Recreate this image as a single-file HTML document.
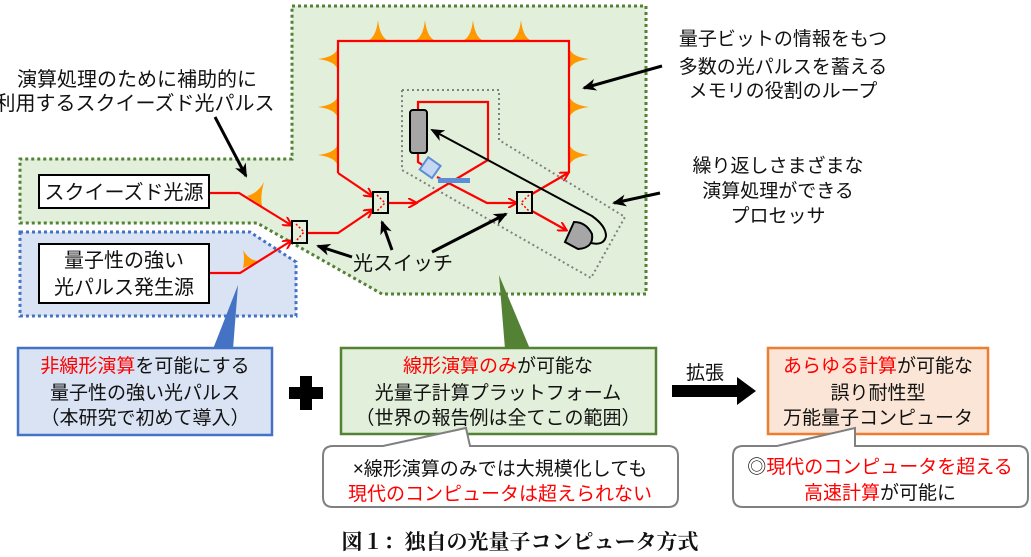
<!DOCTYPE html>
<html><head><meta charset="utf-8"><style>
html,body{margin:0;padding:0;background:#fff;}
svg{display:block;}
text{font-family:"Liberation Sans","Noto Sans CJK JP",sans-serif;fill:#111;}
.r{fill:#ff0000;}
</style></head><body>
<svg width="1031" height="557" viewBox="0 0 1031 557" xmlns="http://www.w3.org/2000/svg">
<defs>
<marker id="ar" markerWidth="10" markerHeight="10" refX="8" refY="5" orient="auto" markerUnits="userSpaceOnUse"><path d="M0,0 L9,5 L0,10" fill="none" stroke="#f00" stroke-width="2"/></marker>
<marker id="ab" markerWidth="14" markerHeight="12" refX="12" refY="6" orient="auto" markerUnits="userSpaceOnUse"><path d="M0,0 L14,6 L0,12 L4,6 Z" fill="#000"/></marker>
</defs>
<polygon points="292,6 646,6 646,294 382,294 257,223 20,223 20,159 292,159" fill="#e2efda" stroke="#548235" stroke-width="3" stroke-dasharray="3,3"/>
<polygon points="20,232 250,232 296,262 296,316 20,316" fill="#dae3f3" stroke="#4472c4" stroke-width="3" stroke-dasharray="3,3"/>
<polygon points="402,90 499,90 499,140 625,217 591,278 402,170" fill="none" stroke="#808080" stroke-width="2" stroke-dasharray="2,3"/>

<g fill="#ff9900">
<path d="M367,41 Q376,38 378,20 Q380,38 389,41Z"/>
<path d="M414,41 Q423,38 425,20 Q427,38 436,41Z"/>
<path d="M462,41 Q471,38 473,20 Q475,38 484,41Z"/>
<path d="M510,41 Q519,38 521,20 Q523,38 532,41Z"/>
<path d="M338,48 Q335,57 318,59 Q335,61 338,70Z"/>
<path d="M338,96 Q335,105 318,107 Q335,109 338,118Z"/>
<path d="M338,144 Q335,153 318,155 Q335,157 338,166Z"/>
<path d="M569,48 Q572,57 589,59 Q572,61 569,70Z"/>
<path d="M569,96 Q572,105 589,107 Q572,109 569,118Z"/>
<path d="M569,144 Q572,153 589,155 Q572,157 569,166Z"/>
<path d="M247,196 Q258,193 264,182 Q260,196 262,206Z"/>
<path d="M243,268 Q245,258 243,250 Q250,262 261,261Z"/>
</g>

<g fill="none" stroke="#ff0000" stroke-width="2.2">
<polyline points="208,193 239,193 291,225" marker-end="url(#ar)"/>
<polyline points="208,273 240,273 291,241" marker-end="url(#ar)"/>
<polyline points="307,233 338,233 372,210" marker-end="url(#ar)"/>
<polyline points="338,173 338,41 569,41 569,173"/>
<polyline points="338,173 372,196" marker-end="url(#ar)"/>
<polyline points="388,203 416,203" marker-end="url(#ar)"/>
<polyline points="416,203 488,160 488,102 418,102 418,110"/>
<polyline points="418,153 418,162 424,166"/>
<polyline points="437,177 487,203 516,203" marker-end="url(#ar)"/>
<polyline points="532,194 568,173" marker-end="url(#ar)"/>
<polyline points="532,211 566,230" marker-end="url(#ar)"/>
</g>

<g fill="none" stroke="#000" stroke-width="2">
<rect x="292" y="221" width="15" height="22"/>
<rect x="373" y="192" width="15" height="21"/>
<rect x="517" y="192" width="15" height="21"/>
</g>
<g fill="none" stroke="#ff0000" stroke-width="1.5" stroke-dasharray="2,2">
<polyline points="296,224 304,232 296,241"/>
<polyline points="377,195 385,203 377,211"/>
<polyline points="529,195 521,203 529,211"/>
</g>

<rect x="410" y="110" width="17" height="43" rx="3" fill="#a6a6a6" stroke="#000" stroke-width="2"/>
<rect x="423" y="160" width="15" height="15" fill="#c5d7f2" stroke="#5b8ed6" stroke-width="2" transform="rotate(35 430 167)"/>
<rect x="438" y="178" width="32" height="5" fill="#5b8ed6"/>
<path d="M574,222 L565,242 L578,249 Q594,248 592,234 Q586,222 574,222Z" fill="#a6a6a6" stroke="#000" stroke-width="2"/>
<path d="M591,243 Q604,246 606,236 Q606,226 592,216 L432,130" fill="none" stroke="#000" stroke-width="2" marker-end="url(#ab)"/>

<g stroke="#000" stroke-width="3" fill="none">
<line x1="215" y1="117" x2="246" y2="176" marker-end="url(#ab)"/>
<line x1="662" y1="66" x2="584" y2="88" marker-end="url(#ab)"/>
<line x1="660" y1="193" x2="614" y2="203" marker-end="url(#ab)"/>
<line x1="352" y1="257" x2="318" y2="246" marker-end="url(#ab)"/>
<line x1="392" y1="250" x2="382" y2="222" marker-end="url(#ab)"/>
<line x1="432" y1="252" x2="506" y2="214" marker-end="url(#ab)"/>
</g>

<rect x="39" y="175" width="170" height="33" fill="#fff" stroke="#000" stroke-width="2"/>
<text x="124" y="199" font-size="20" text-anchor="middle">スクイーズド光源</text>
<rect x="39" y="244" width="170" height="59" fill="#fff" stroke="#000" stroke-width="2"/>
<text x="124" y="267" font-size="20" text-anchor="middle">量子性の強い</text>
<text x="124" y="294" font-size="20" text-anchor="middle">光パルス発生源</text>

<text x="137" y="86" font-size="20" text-anchor="middle">演算処理のために補助的に</text>
<text x="135" y="110" font-size="20" text-anchor="middle">利用するスクイーズド光パルス</text>
<text x="783" y="45" font-size="19" text-anchor="middle">量子ビットの情報をもつ</text>
<text x="783" y="73" font-size="19" text-anchor="middle">多数の光パルスを蓄える</text>
<text x="783" y="97" font-size="19" text-anchor="middle">メモリの役割のループ</text>
<text x="778" y="172" font-size="19" text-anchor="middle">繰り返しさまざまな</text>
<text x="778" y="197" font-size="19" text-anchor="middle">演算処理ができる</text>
<text x="778" y="222" font-size="19" text-anchor="middle">プロセッサ</text>
<text x="403" y="270" font-size="20" text-anchor="middle">光スイッチ</text>

<polygon points="238,285 213,349 233,349" fill="#4472c4"/>
<polygon points="499,275 505,349 530,349" fill="#548235"/>

<rect x="18" y="348" width="254" height="87" fill="#dae3f3" stroke="#4472c4" stroke-width="2.5"/>
<text x="145" y="372" font-size="19" text-anchor="middle"><tspan class="r">非線形演算</tspan>を可能にする</text>
<text x="145" y="399" font-size="19" text-anchor="middle">量子性の強い光パルス</text>
<text x="145" y="424" font-size="19" text-anchor="middle">（本研究で初めて導入）</text>

<rect x="341" y="348" width="315" height="86" fill="#e2efda" stroke="#548235" stroke-width="2.5"/>
<text x="498" y="372" font-size="19" text-anchor="middle"><tspan class="r">線形演算のみ</tspan>が可能な</text>
<text x="498" y="399" font-size="19" text-anchor="middle">光量子計算プラットフォーム</text>
<text x="498" y="424" font-size="19" text-anchor="middle">（世界の報告例は全てこの範囲）</text>

<rect x="768" y="348" width="220" height="86" fill="#fbe5d6" stroke="#ed7d31" stroke-width="2.5"/>
<text x="878" y="372" font-size="19" text-anchor="middle"><tspan class="r">あらゆる計算</tspan>が可能な</text>
<text x="878" y="399" font-size="19" text-anchor="middle">誤り耐性型</text>
<text x="878" y="424" font-size="19" text-anchor="middle">万能量子コンピュータ</text>

<rect x="300" y="376" width="12" height="34" fill="#000"/>
<rect x="289" y="387" width="34" height="12" fill="#000"/>
<polygon points="672,385 737,385 737,377 756,391 737,405 737,397 672,397" fill="#000"/>
<text x="705" y="379" font-size="19" text-anchor="middle">拡張</text>

<path d="M333,446 L383,446 L466,428 L470,446 L668,446 Q678,446 678,456 L678,497 Q678,507 668,507 L333,507 Q323,507 323,497 L323,456 Q323,446 333,446Z" fill="#fff" stroke="#808080" stroke-width="2"/>
<text x="500" y="475" font-size="19" text-anchor="middle">×線形演算のみでは大規模化しても</text>
<text x="500" y="500" font-size="19" text-anchor="middle" class="r">現代のコンピュータは超えられない</text>

<path d="M743,446 L777,446 L855,428 L855,446 L1018,446 Q1028,446 1028,456 L1028,497 Q1028,507 1018,507 L743,507 Q733,507 733,497 L733,456 Q733,446 743,446Z" fill="#fff" stroke="#808080" stroke-width="2"/>
<text x="880" y="473" font-size="19" text-anchor="middle">◎<tspan class="r">現代のコンピュータを超える</tspan></text>
<text x="880" y="499" font-size="19" text-anchor="middle"><tspan class="r">高速計算</tspan>が可能に</text>

<text x="520" y="549" font-size="21" font-weight="bold" text-anchor="middle" style="font-family:'Liberation Serif','Noto Serif CJK SC',serif;">図１：独自の光量子コンピュータ方式</text>
</svg>
</body></html>
